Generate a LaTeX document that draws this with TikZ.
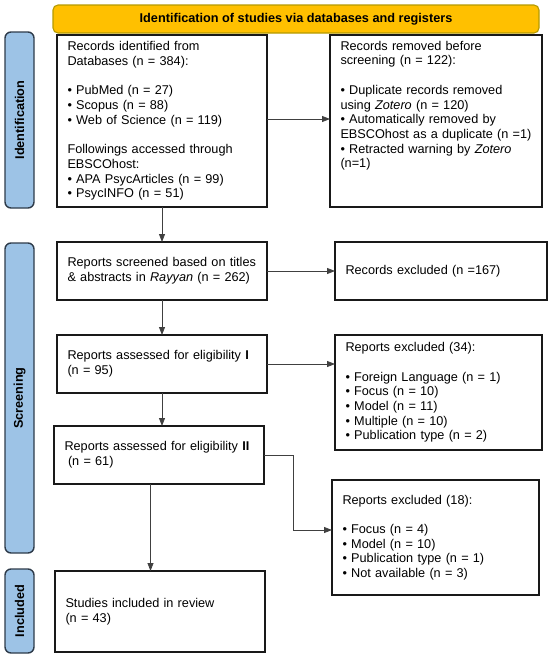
\documentclass[tikz,border=0pt]{standalone}
\usepackage{fontspec}
\setmainfont{Liberation Sans}
\usetikzlibrary{positioning,arrows.meta}
\definecolor{gold}{HTML}{FFC000}
\definecolor{goldline}{HTML}{B59A00}
\definecolor{phasefill}{HTML}{9DC3E6}
\definecolor{phaseline}{HTML}{2E3B4A}

\begin{document}
\begin{tikzpicture}[x=1pt,y=1pt]
\tikzstyle{box}=[rectangle, draw=black!90, line width=1.1pt, inner xsep=10.5pt, inner ysep=0pt, outer sep=0pt, align=left, text width=189pt, font=\fontsize{12.7}{14.7}\selectfont]
\tikzstyle{phase}=[rectangle, rounded corners=6pt, draw=phaseline, line width=1.4pt, fill=phasefill, rotate=90, minimum height=29pt, inner sep=0pt, font=\bfseries\fontsize{12.7}{14.7}\selectfont]
\tikzstyle{banner}=[rectangle, rounded corners=5pt, draw=goldline, line width=1.1pt, fill=gold, minimum width=486pt, minimum height=28pt, inner sep=0pt, outer sep=0pt, font=\bfseries\fontsize{12.7}{14.7}\selectfont]
\tikzstyle{connect}=[-{Triangle[length=8pt,width=6pt]}, line width=0.8pt, draw=black!75]
\useasboundingbox (0,0) rectangle (550,-659);
  \node[box, minimum height=172pt, anchor=north west] (rec) at (57,-35) {Records identified from\\ Databases (n = 384):\\[14.7pt] • PubMed (n = 27)\\ • Scopus (n = 88)\\ • Web of Science (n = 119)\\[14.7pt] Followings accessed through\\ EBSCOhost:\\ • APA PsycArticles (n = 99)\\ • PsycINFO (n = 51)};
\node[box, text width=191pt, minimum height=172pt, right=63pt of rec] (rem) {\parbox[c][160pt][t]{191pt}{\raggedright Records removed before\\ screening (n = 122):\\[14.7pt] • Duplicate records removed\\ using \textit{Zotero} (n = 120)\\ • Automatically removed by\\ EBSCOhost as a duplicate (n =1)\\ • Retracted warning by \textit{Zotero}\\ (n=1)}};
\node[banner, above=2pt of rec.north west, anchor=south west, xshift=-4pt] (head) {Identification of studies via databases and registers};
  \node[box, minimum height=58pt, below=35pt of rec] (scr) {Reports screened based on titles\\ \& abstracts in \textit{Rayyan} (n = 262)};
\node[box, text width=191pt, minimum height=58pt, right=68pt of scr] (exc) {Records excluded (n =167)};
  \node[box, minimum height=58pt, below=35pt of scr] (el1) {Reports assessed for eligibility \textbf{I}\\ (n = 95)};
\node[box, text width=186pt, minimum height=115pt, right=68pt of el1.north east, anchor=north west] (ex1) {Reports excluded (34):\\[14.7pt] • Foreign Language (n = 1)\\ • Focus (n = 10)\\ • Model (n = 11)\\ • Multiple (n = 10)\\ • Publication type (n = 2)};
  \node[box, minimum height=58pt, below=33pt of el1, xshift=-3pt] (el2) {Reports assessed for eligibility \textbf{II}\\ \hspace*{3.5pt}(n = 61)};
\node[box, text width=186pt, minimum height=115pt, below=30pt of ex1.south west, anchor=north west, xshift=-3pt] (ex2) {Reports excluded (18):\\[14.7pt] • Focus (n = 4)\\ • Model (n = 10)\\ • Publication type (n = 1)\\ • Not available (n = 3)};
  \node[box, minimum height=81pt, below=87pt of el2, xshift=1pt] (inc) {Studies included in review\\ (n = 43)};
% phases
\node[phase, minimum width=176pt] (p1) at (19.5,-120) {Identification};
\node[phase, minimum width=310pt] (p2) at (19.5,-398) {Screening};
\node[phase, minimum width=84pt] (p3) at (19.5,-611) {Included};
  \draw[connect] ([yshift=2pt]rec.east) -- ([yshift=2pt]rec.east -| rem.west);
  \draw[connect] (rec) -- (scr);
  \draw[connect] (scr) -- (exc);
  \draw[connect] (scr) -- (el1);
  \draw[connect] (el1.east) -- (el1.east -| ex1.west);
  \draw[connect] (el1.south) -- (el1.south |- el2.north);
  \draw[connect] (el2.east) -- ++(29pt,0) |- ([yshift=7.5pt]ex2.west);
  \draw[connect] ([xshift=-8.5pt]el2.south) -- ([xshift=-8.5pt]el2.south |- inc.north);
\end{tikzpicture}
\end{document}
